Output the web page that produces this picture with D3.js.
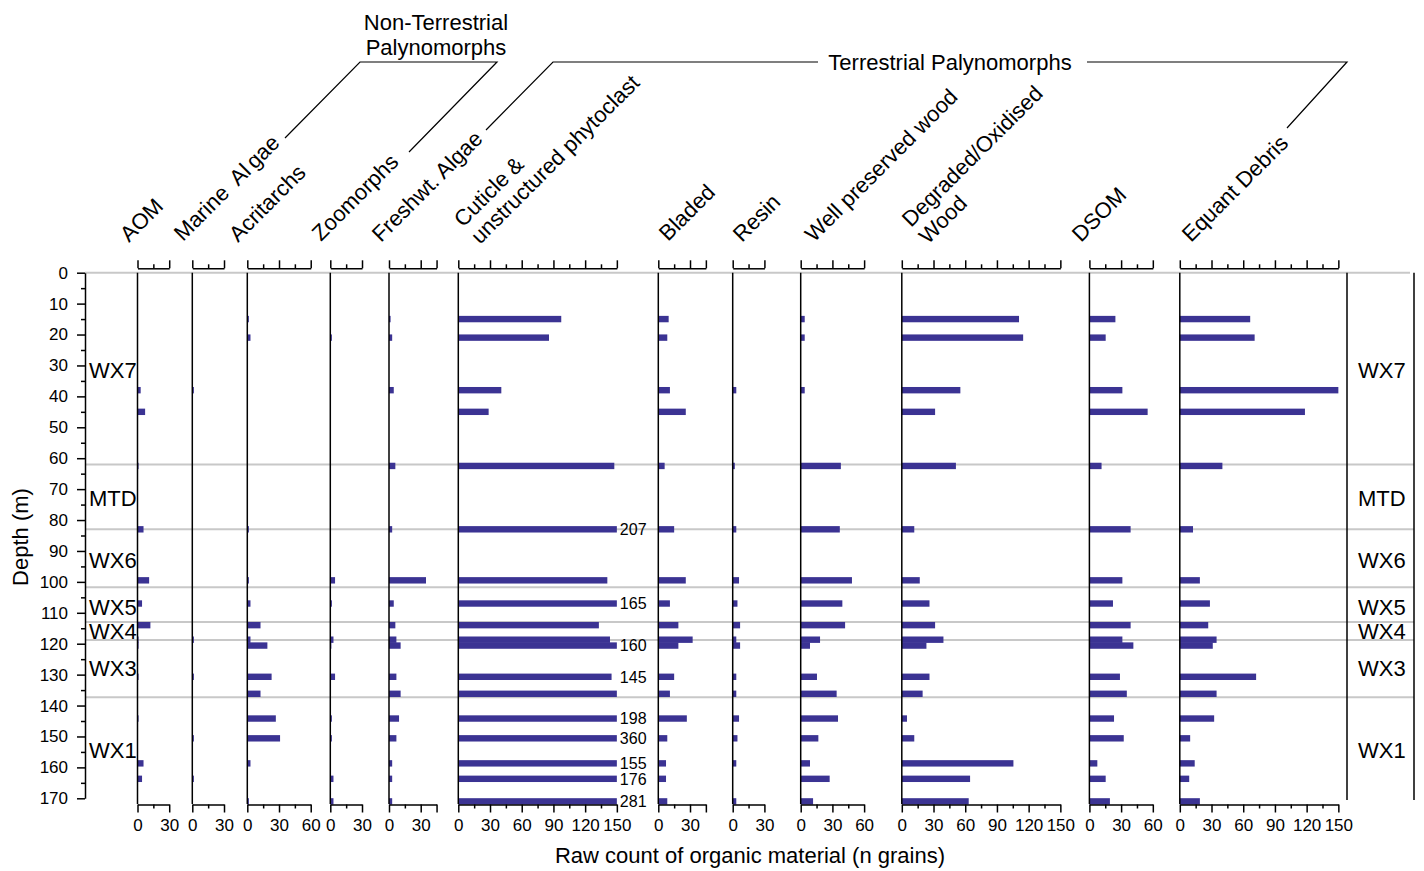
<!DOCTYPE html>
<html><head><meta charset="utf-8">
<script src="https://cdn.jsdelivr.net/npm/d3@7/dist/d3.min.js"></script>
<style>
body{margin:0;background:#fff}
text{font-family:Arial,"Liberation Sans",Helvetica,sans-serif;fill:#000}
</style>
</head><body>
<svg id="c" width="1424" height="871"></svg>
<script>
// ---------------- DATA ----------------
const depths = [15, 21, 38, 45, 62.5, 83, 99.5, 107, 114, 118.7, 120.6, 130.7, 136.2, 144.2, 150.6, 158.7, 163.7, 171];
const categories = ["AOM", "Marine Algae", "Acritarchs", "Zoomorphs", "Freshwt. Algae",
  "Cuticle & unstructured phytoclast", "Bladed", "Resin", "Well preserved wood",
  "Degraded/Oxidised Wood", "DSOM", "Equant Debris"];
const aom        = [0, 0, 3, 7.2, 1, 5.7, 11, 4.3, 12.2, 1, 1, 1, 0, 1, 0, 5.7, 4.3, 0];
const marineAlgae= [0, 0, 1.5, 0, 0, 0, 0, 0, 0, 1.5, 0, 1.5, 0, 0, 1.5, 0, 1.5, 0];
const acritarchs = [1.5, 3, 0, 0, 0, 1.5, 1.5, 3, 12.5, 3, 19, 23, 12.5, 27, 31, 3, 0, 1.5];
const zoomorphs  = [0, 1.5, 0, 0, 0, 0, 4.5, 1.5, 0, 3, 1, 4.5, 0, 1.5, 1.5, 0, 3, 3];
const freshwtAlgae = [1.5, 3, 4.5, 0, 6, 3, 35, 4.5, 6, 7, 11, 7, 11, 9.5, 7, 3, 3, 3];
const cuticle    = [97.4, 85.8, 40.7, 28.7, 147.6, 207, 141, 165, 133, 143.5, 160, 145, 150, 198, 360, 155, 176, 281];
const cuticleLabels = ["", "", "", "", "", "207", "", "165", "", "", "160", "145", "", "198", "360", "155", "176", "281"];
const bladed     = [9.8, 8.5, 11, 26, 6, 15, 26, 11, 19, 32.5, 19, 15, 11, 27, 8.5, 7.3, 7.3, 8.5];
const resin      = [0, 0, 3.4, 0, 2, 3.4, 6, 4.5, 7, 3.4, 7, 3.4, 3.4, 6, 4.5, 3.4, 0, 3.4];
const wellWood   = [3.8, 3.8, 3.8, 0, 38, 37, 48.5, 39.4, 42, 18.3, 8.8, 15.4, 34, 35.3, 16.7, 8.8, 27.4, 11.7];
const degradedWood = [110.9, 114.8, 55.4, 31.5, 51.2, 11.8, 17, 26.2, 31.5, 39.4, 23.3, 26.2, 19.7, 4.9, 11.8, 105.6, 64.6, 63.3];
const dsom       = [24.6, 15.4, 31.2, 55.1, 11.5, 39, 31.2, 22.3, 39, 31.2, 41.6, 28.9, 35.4, 23.3, 32.5, 7.5, 15.4, 19.4];
const equant     = [66.6, 70.8, 150, 118.4, 40.3, 12.5, 19, 28.5, 26.9, 34.8, 31.2, 72.2, 34.8, 32.5, 9.8, 14.1, 8.9, 19];
const axisMax    = [30, 30, 60, 30, 45, 150, 45, 30, 60, 150, 60, 150];
const depthTicks = [0,10,20,30,40,50,60,70,80,90,100,110,120,130,140,150,160,170];
const zoneNames  = ["WX7", "MTD", "WX6", "WX5", "WX4", "WX3", "WX1"];
const zoneLabelDepths = [31.5, 73, 93, 108, 116, 128, 154.5];
const zoneBoundaries  = [62, 83, 101.7, 113, 118.8, 137.3];
const groupNames = ["Non-Terrestrial", "Palynomorphs", "Terrestrial Palynomorphs"];
const series = [aom, marineAlgae, acritarchs, zoomorphs, freshwtAlgae, cuticle, bladed, resin, wellWood, degradedWood, dsom, equant];

// ---------------- LAYOUT ----------------
const panelX0 = [137.5, 192.3, 247.3, 330.3, 389, 458.3, 658.3, 732.7, 800.7, 901.8, 1089.4, 1179.8];
const pxPerUnit = 1.057;
const headerLines = [["AOM"], null, ["Acritarchs"], ["Zoomorphs"], ["Freshwt. Algae"],
  ["Cuticle &", "unstructured phytoclast"], ["Bladed"], ["Resin"], ["Well preserved wood"],
  ["Degraded/Oxidised", "Wood"], ["DSOM"], ["Equant Debris"]];
const headerAnchor = [[129,243],[183,242],[238,243],[321,242],[381,243],[463,228],[668,242],[742,243],[814,243],[911,228],[1081,243],[1191,243]];
const barColor = "#3b3393";
const gridColor = "#c8c8c8";
const barH = 6.4;

const svg = d3.select("#c");
const y = d3.scaleLinear().domain([0, 170]).range([272.7, 798.3]);

// grey lines
svg.append("line").attr("x1", 85).attr("x2", 1410).attr("y1", y(0)).attr("y2", y(0))
  .attr("stroke", gridColor).attr("stroke-width", 2);
svg.selectAll("line.zb").data(zoneBoundaries).enter().append("line")
  .attr("x1", 85).attr("x2", 1414).attr("y1", d => y(d)).attr("y2", d => y(d))
  .attr("stroke", gridColor).attr("stroke-width", 2);

// panels
series.forEach((vals, i) => {
  const x = d3.scaleLinear().domain([0, axisMax[i]]).range([panelX0[i], panelX0[i] + axisMax[i] * pxPerUnit]);
  const g = svg.append("g");
  const rows = depths.map((d, j) => ({d, v: vals[j], j})).filter(r => r.v > 0);
  g.selectAll("rect").data(rows).enter().append("rect")
    .attr("x", x(0))
    .attr("y", r => y(r.d) - barH / 2)
    .attr("width", r => x(Math.min(r.v, axisMax[i])) - x(0))
    .attr("height", barH)
    .attr("fill", barColor);
  g.append("line").attr("x1", x(0)).attr("x2", x(0)).attr("y1", y(0)).attr("y2", 804)
    .attr("stroke", "#000").attr("stroke-width", 1.5);
  const tv = d3.range(0, axisMax[i] + 0.1, 15);
  const fixTicks = (sel, sign) => {
    sel.select(".domain").attr("stroke-width", 1.5);
    sel.selectAll(".tick line").attr("stroke-width", 1.5)
      .attr("y2", d => sign * ((d % 30 === 0 || d === axisMax[i]) ? 8 : 4));
  };
  const top = g.append("g").attr("transform", "translate(0,268.3)")
    .call(d3.axisTop(x).tickValues(tv).tickSizeOuter(0).tickFormat(""));
  fixTicks(top, -1);
  const bot = g.append("g").attr("transform", "translate(0,804.5)")
    .call(d3.axisBottom(x).tickValues(tv).tickSizeOuter(0)
      .tickFormat(d => d % 30 === 0 ? d : ""));
  fixTicks(bot, 1);
  bot.selectAll(".tick text").attr("font-size", 17).attr("font-family", null)
    .attr("y", 14).attr("fill", "#000");
  top.selectAll(".tick text").remove();
});

// cuticle labels
const xc = d3.scaleLinear().domain([0, 150]).range([panelX0[5], panelX0[5] + 150 * pxPerUnit]);
svg.selectAll("text.cl").data(depths.map((d, j) => ({d, t: cuticleLabels[j]})).filter(r => r.t))
  .enter().append("text")
  .attr("x", xc(150) + 3).attr("y", r => y(r.d)).attr("dy", "0.36em")
  .attr("font-size", 16).attr("fill", "#222").text(r => r.t);

// left axis
const yAxis = svg.append("g").attr("transform", "translate(85,0)")
  .call(d3.axisLeft(y).tickValues(d3.range(0, 171, 5)).tickSizeOuter(0)
    .tickFormat(d => depthTicks.includes(d) ? d : ""));
yAxis.select(".domain").attr("stroke-width", 1.5);
yAxis.selectAll(".tick line").attr("stroke-width", 1.5).attr("x2", d => d % 10 === 0 ? -8 : -4);
yAxis.selectAll(".tick text").attr("font-size", 17).attr("font-family", null).attr("x", -17).attr("fill", "#000");

// right vertical lines
[1347, 1414].forEach(xx => svg.append("line").attr("x1", xx).attr("x2", xx)
  .attr("y1", y(0)).attr("y2", 800).attr("stroke", "#000").attr("stroke-width", 1.5));

// zone labels
zoneNames.forEach((n, i) => {
  [89, 1358].forEach(xx => svg.append("text").attr("x", xx).attr("y", y(zoneLabelDepths[i]))
    .attr("dy", "0.36em").attr("font-size", 22).text(n));
});

// headers
headerLines.forEach((lines, i) => {
  const [ax, ay] = headerAnchor[i];
  const t = svg.append("text").attr("transform", `translate(${ax},${ay}) rotate(-45)`)
    .attr("font-size", 22);
  if (lines === null) {
    t.append("tspan").text("Marine ");
    t.append("tspan").attr("dx", 6).text("Al");
    t.append("tspan").attr("dx", 4).text("gae");
  } else {
    lines.forEach((l, k) => t.append("tspan").attr("x", 0).attr("y", k * 24).text(l));
  }
});

// group headers
svg.append("text").attr("x", 436).attr("y", 30).attr("text-anchor", "middle").attr("font-size", 22).text(groupNames[0]);
svg.append("text").attr("x", 436).attr("y", 55).attr("text-anchor", "middle").attr("font-size", 22).text(groupNames[1]);
svg.append("text").attr("x", 950).attr("y", 70).attr("text-anchor", "middle").attr("font-size", 22).text(groupNames[2]);
const line = d3.line();
[
  [[285,138],[360,62],[497,62],[409,152]],
  [[486,130],[553,62],[818,62]],
  [[1087,62],[1347,62],[1287,128]]
].forEach(p => svg.append("path").attr("d", line(p)).attr("fill", "none").attr("stroke", "#000").attr("stroke-width", 1.2));

// axis titles
svg.append("text").attr("transform", "translate(28,537) rotate(-90)").attr("text-anchor", "middle")
  .attr("font-size", 22).text("Depth (m)");
svg.append("text").attr("x", 750).attr("y", 863).attr("text-anchor", "middle")
  .attr("font-size", 22).text("Raw count of organic material (n grains)");
</script>
</body></html>
